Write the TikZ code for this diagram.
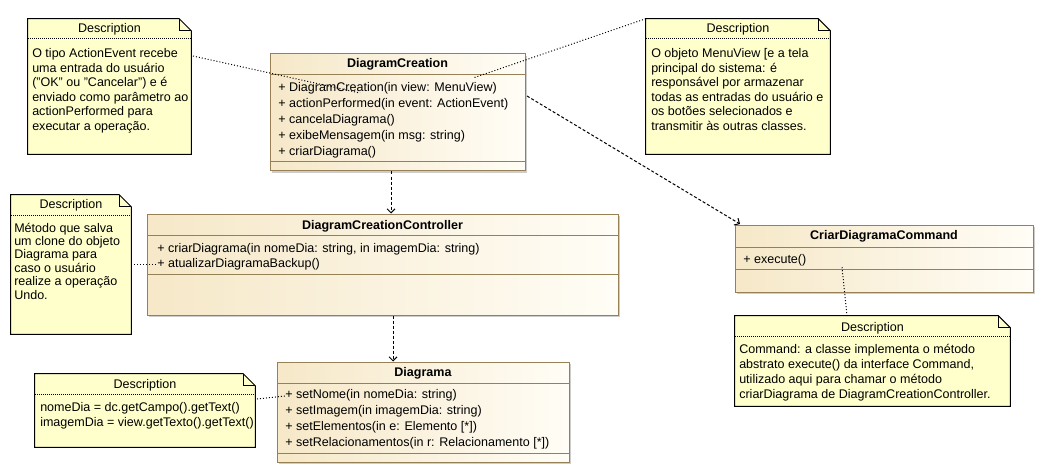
\documentclass[tikz,border=0pt]{standalone}
\usepackage{fontspec}
\setmainfont{Liberation Sans}
\usetikzlibrary{arrows.meta,fit,shadows}
\definecolor{classline}{RGB}{150,128,85}
\definecolor{classleft}{RGB}{246,232,200}
\definecolor{classright}{RGB}{255,253,246}
\definecolor{notefill}{RGB}{255,255,204}
\definecolor{shadowgray}{RGB}{205,205,205}
\newcommand\mynote[6]{%
  \node[fit={(#2,#3) (#4,#5)}, inner sep=0] (#1) {};
  \draw[notestyle] (#1.north west) -- ([xshift=-9pt]#1.north east) -- ([yshift=-9pt]#1.north east) -- (#1.south east) -- (#1.south west) -- cycle;
  \draw[line width=0.75pt] ([xshift=-9pt]#1.north east) |- ([yshift=-9pt]#1.north east);
  \draw[sepline] (#2,#6) -- (#4,#6);
}
\begin{document}
\begin{tikzpicture}[x=0.75pt,y=-0.75pt,
  txt/.style={font=\fontsize{9.4}{11}\selectfont, inner sep=0, anchor=base west},
  ttl/.style={font=\fontsize{9.4}{11}\selectfont\bfseries, inner sep=0, anchor=base},
  hdr/.style={font=\fontsize{9.4}{11}\selectfont, inner sep=0, anchor=base},
  classbox/.style={draw=classline, line width=0.75pt, left color=classleft, right color=classright, inner sep=0,
     drop shadow={shadow xshift=1.5pt, shadow yshift=-1.5pt, fill=shadowgray, opacity=1}},
  compline/.style={draw=classline, line width=0.75pt},
  notestyle/.style={draw=black, fill=notefill, line width=0.75pt},
  sepline/.style={line width=0.75pt, dash pattern=on 0.75pt off 0.75pt},
  dotline/.style={line width=0.75pt, dash pattern=on 0.75pt off 1.5pt},
  dep/.style={line width=0.75pt, dash pattern=on 2.25pt off 1.5pt, -{Straight Barb[length=3pt,width=6pt]}}]
\useasboundingbox (0,0) rectangle (1045,474);

% ---------- Notes ----------
\mynote{n1}{28}{19}{191}{154}{39}
\node[hdr] (n1h) at (109.5,33) {Description};
\foreach \t [count=\i] in {O tipo ActionEvent recebe, uma entrada do usuário, {("OK" ou "Cancelar") e é}, enviado como parâmetro ao, actionPerformed para, executar a operação.}
  {\node[txt] (n1l\i) at (32,{57.5+14.6*(\i-1)}) {\t};}

\mynote{n2}{646}{19}{830}{154}{39}
\node[hdr] (n2h) at (738,33) {Description};
\foreach \t [count=\i] in {O objeto MenuView [e a tela, principal do sistema: é, responsável por armazenar, todas as entradas do usuário e, os botões selecionados e, transmitir às outras classes.}
  {\node[txt] (n2l\i) at (651,{57.5+14.6*(\i-1)}) {\t};}

\mynote{n3}{11}{195}{131}{334}{215}
\node[hdr] (n3h) at (71,209) {Description};
\foreach \t [count=\i] in {Método que salva, um clone do objeto, Diagrama para, caso o usuário, realize a operação, Undo.}
  {\node[txt] (n3l\i) at (14,{232+13.4*(\i-1)}) {\t};}

\mynote{n4}{735}{316}{1010}{406}{336}
\node[hdr] (n4h) at (872.5,331) {Description};
\foreach \t [count=\i] in {Command: a classe implementa o método, {abstrato execute() da interface Command,}, utilizado aqui para chamar o método, criarDiagrama de DiagramCreationController.}
  {\node[txt] (n4l\i) at (739,{353+15*(\i-1)}) {\t};}

\mynote{n5}{35}{374}{255}{447}{394}
\node[hdr] (n5h) at (145,388) {Description};
\foreach \t [count=\i] in {nomeDia = dc.getCampo().getText(), imagemDia = view.getTexto().getText()}
  {\node[txt] (n5l\i) at (40,{411+15*(\i-1)}) {\t};}

% ---------- Classes ----------
\node[classbox, fit={(270,54) (525,171)}] (dc) {};
\draw[compline] (270,75) -- (525,75);
\draw[compline] (270,162) -- (525,162);
\node[ttl] (dct) at (397.5,68) {DiagramCreation};
\foreach \t [count=\i] in {+ DiagramCreation(in view: MenuView), + actionPerformed(in event: ActionEvent), + cancelaDiagrama(), + exibeMensagem(in msg: string), + criarDiagrama()}
  {\node[txt] (dcm\i) at (278,{92+16*(\i-1)}) {\t};}

\node[classbox, fit={(147,214) (618,315)}] (ctrl) {};
\draw[compline] (147,235) -- (618,235);
\draw[compline] (147,274) -- (618,274);
\node[ttl] (ctrlt) at (382.5,229) {DiagramCreationController};
\foreach \t [count=\i] in {{+ criarDiagrama(in nomeDia: string, in imagemDia: string)}, + atualizarDiagramaBackup()}
  {\node[txt] (ctrlm\i) at (157,{252+15*(\i-1)}) {\t};}

\node[classbox, fit={(735,225) (1033,292)}] (cmd) {};
\draw[compline] (735,247) -- (1033,247);
\draw[compline] (735,269) -- (1033,269);
\node[ttl] (cmdt) at (884,239) {CriarDiagramaCommand};
\node[txt] (cmdm1) at (743,263) {+ execute()};

\node[classbox, fit={(277,362) (569,462)}] (diag) {};
\draw[compline] (277,383) -- (569,383);
\draw[compline] (277,453) -- (569,453);
\node[ttl] (diagt) at (423,376) {Diagrama};
\foreach \t [count=\i] in {+ setNome(in nomeDia: string), + setImagem(in imagemDia: string), {+ setElementos(in e: Elemento [*])}, {+ setRelacionamentos(in r: Relacionamento [*])}}
  {\node[txt] (diagm\i) at (285,{398+16.3*(\i-1)}) {\t};}

% ---------- Connectors ----------
\coordinate (n1a) at (193,56);
\coordinate (dca) at (360,93);
\draw[dotline] (n1a) -- (dca);

\coordinate (dcb) at (473,78);
\draw[dotline] (n2.north west) -- (dcb);

\coordinate (dcc) at (527,96);
\coordinate (cmda) at (740,224);
\draw[dep] (dcc) -- (cmda);

\coordinate (xa) at (391,0);
\draw[dep] (dc.south -| xa) -- (ctrl.north -| xa);

\coordinate (xb) at (393,0);
\draw[dep] (ctrl.south -| xb) -- (diag.north -| xb);

\coordinate (ctrla) at (156,264.5);
\draw[dotline] (n3.east) -- (ctrla);

\coordinate (n4a) at (847,316);
\coordinate (cmdb) at (842,267);
\draw[dotline] (n4a) -- (cmdb);

\coordinate (n5a) at (257,399);
\coordinate (diaga) at (285,396);
\draw[dotline] (n5a) -- (diaga);
\end{tikzpicture}
\end{document}
